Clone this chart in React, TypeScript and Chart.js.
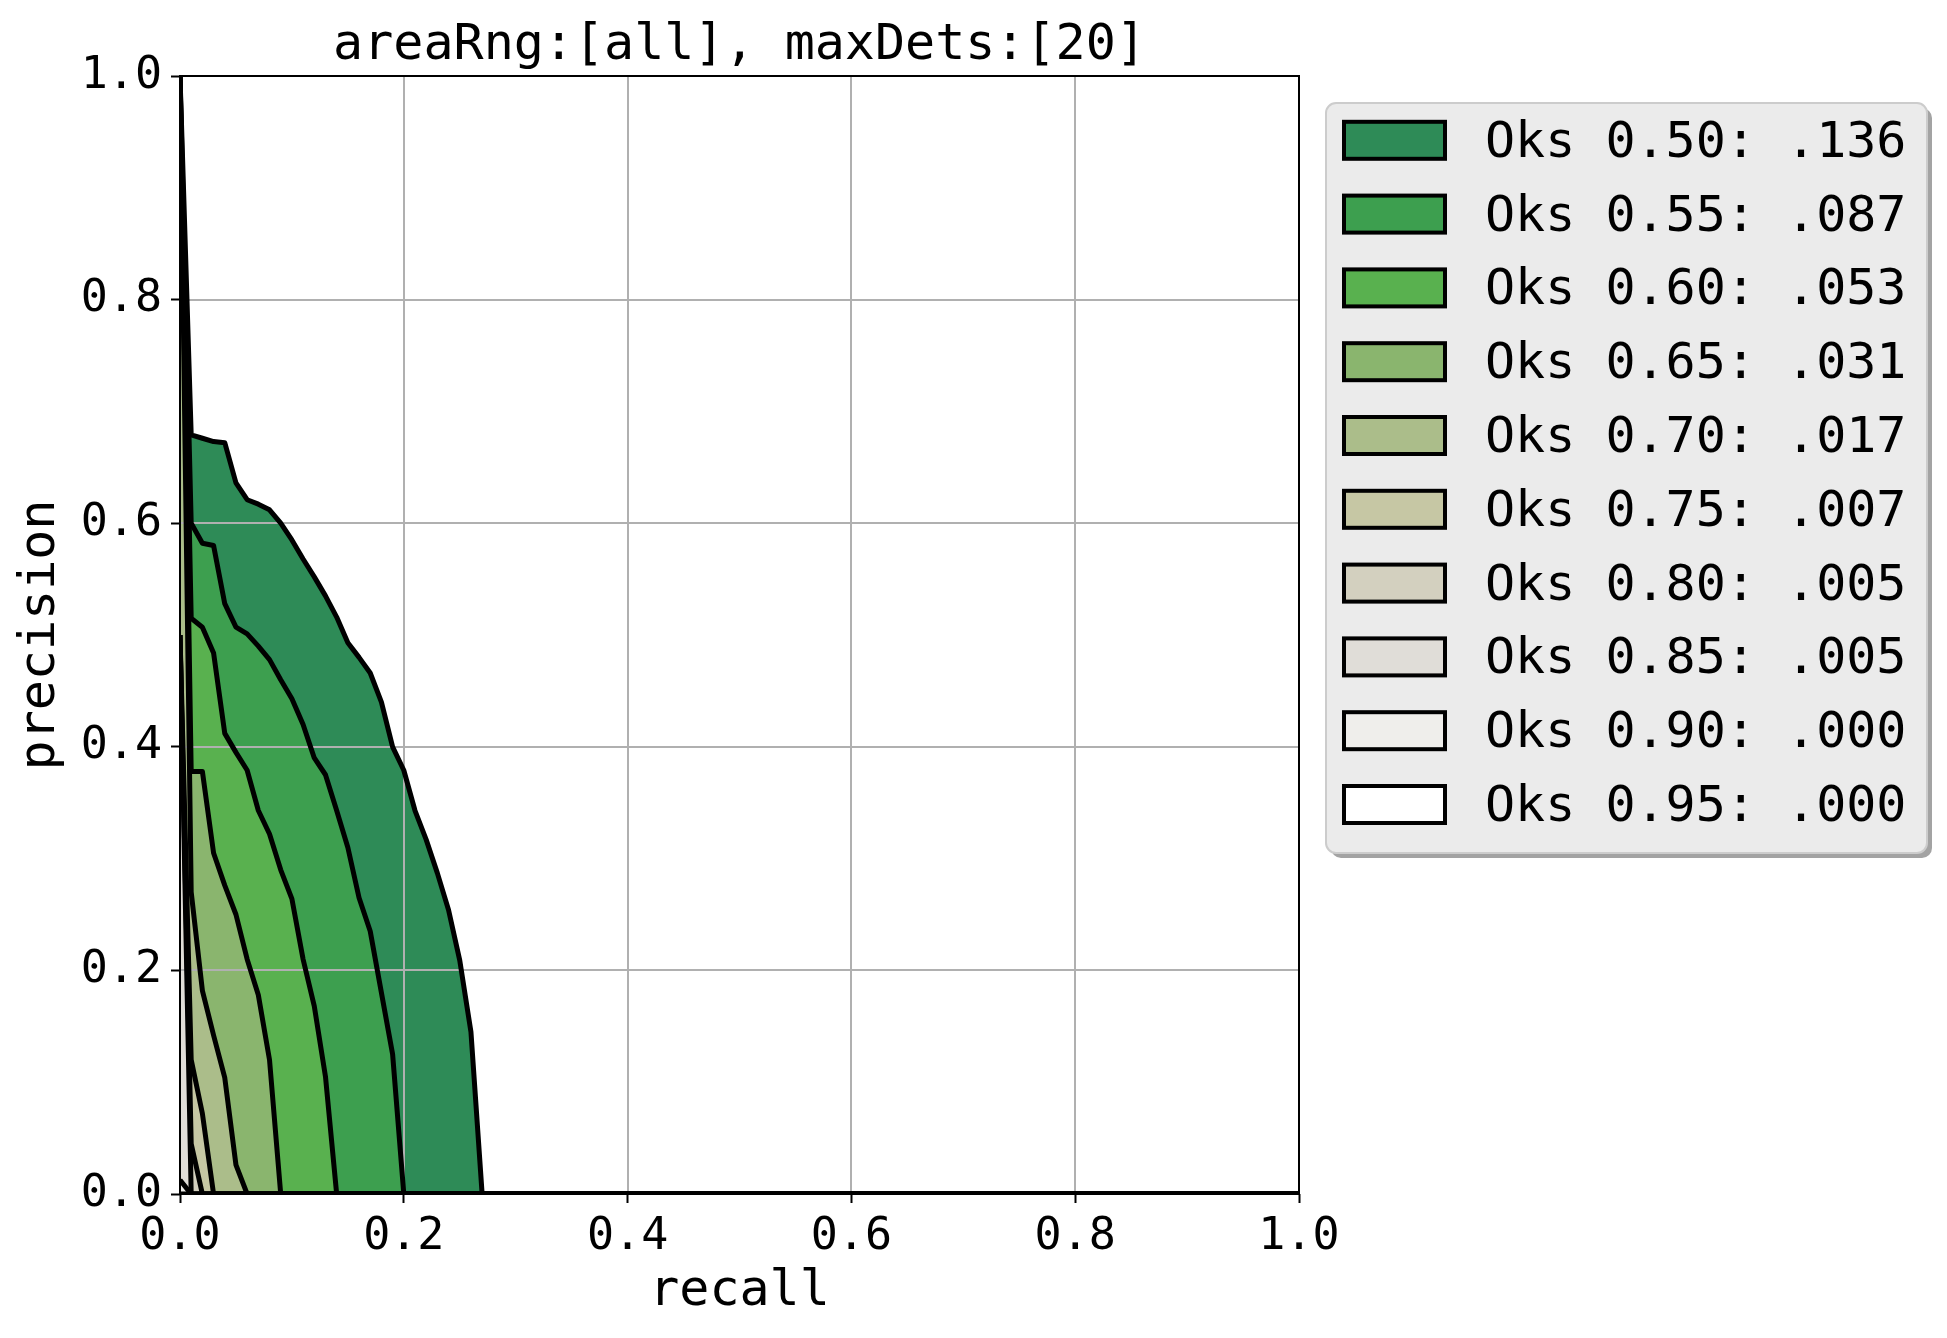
import React, { useEffect, useRef } from 'react';
import { Chart, registerables } from 'chart.js';

Chart.register(...registerables);

// recall sampling points (COCO recall thresholds actually used by the curves, plus the end of the axis)
const RECALL = [0, 0.01, 0.02, 0.03, 0.04, 0.05, 0.06, 0.07, 0.08, 0.09, 0.1, 0.11, 0.12, 0.13, 0.14, 0.15, 0.16, 0.17, 0.18, 0.19, 0.2, 0.21, 0.22, 0.23, 0.24, 0.25, 0.26, 0.27, 1.0];

const P50 = [1.0, 0.679, 0.676, 0.673, 0.672, 0.636, 0.621, 0.617, 0.612, 0.6, 0.585, 0.568, 0.552, 0.535, 0.516, 0.493, 0.48, 0.466, 0.44, 0.4, 0.379, 0.343, 0.317, 0.287, 0.254, 0.209, 0.145, 0, 0];
const P55 = [1.0, 0.6, 0.582, 0.58, 0.528, 0.507, 0.501, 0.49, 0.478, 0.46, 0.443, 0.42, 0.39, 0.375, 0.343, 0.31, 0.265, 0.235, 0.18, 0.125, 0, 0, 0, 0, 0, 0, 0, 0, 0];
const P60 = [1.0, 0.515, 0.507, 0.484, 0.412, 0.395, 0.379, 0.343, 0.322, 0.29, 0.264, 0.21, 0.168, 0.105, 0, 0, 0, 0, 0, 0, 0, 0, 0, 0, 0, 0, 0, 0, 0];
const P65 = [1.0, 0.378, 0.378, 0.305, 0.276, 0.25, 0.21, 0.178, 0.12, 0, 0, 0, 0, 0, 0, 0, 0, 0, 0, 0, 0, 0, 0, 0, 0, 0, 0, 0, 0];
const P70 = [1.0, 0.27, 0.182, 0.142, 0.104, 0.026, 0, 0, 0, 0, 0, 0, 0, 0, 0, 0, 0, 0, 0, 0, 0, 0, 0, 0, 0, 0, 0, 0, 0];
const P75 = [0.5, 0.12, 0.072, 0, 0, 0, 0, 0, 0, 0, 0, 0, 0, 0, 0, 0, 0, 0, 0, 0, 0, 0, 0, 0, 0, 0, 0, 0, 0];
const P80 = [0.5, 0.045, 0, 0, 0, 0, 0, 0, 0, 0, 0, 0, 0, 0, 0, 0, 0, 0, 0, 0, 0, 0, 0, 0, 0, 0, 0, 0, 0];
const P85 = [0.5, 0, 0, 0, 0, 0, 0, 0, 0, 0, 0, 0, 0, 0, 0, 0, 0, 0, 0, 0, 0, 0, 0, 0, 0, 0, 0, 0, 0];
const P90 = [0.0125, 0, 0, 0, 0, 0, 0, 0, 0, 0, 0, 0, 0, 0, 0, 0, 0, 0, 0, 0, 0, 0, 0, 0, 0, 0, 0, 0, 0];
const P95 = [0, 0, 0, 0, 0, 0, 0, 0, 0, 0, 0, 0, 0, 0, 0, 0, 0, 0, 0, 0, 0, 0, 0, 0, 0, 0, 0, 0, 0];

const SERIES = [P50, P55, P60, P65, P70, P75, P80, P85, P90, P95];
const THRESHOLDS = ['0.50', '0.55', '0.60', '0.65', '0.70', '0.75', '0.80', '0.85', '0.90', '0.95'];
const AP_TEXT = ['.136', '.087', '.053', '.031', '.017', '.007', '.005', '.005', '.000', '.000'];
const COLORS = ['#2e8b57', '#3d9f4f', '#59b14f', '#8ab56e', '#abbd8a', '#c6c7a4', '#d3d0bf', '#e0ddd8', '#efeeeb', '#ffffff'];

const TICK_VALUES = [0, 0.2, 0.4, 0.6, 0.8, 1.0];
const TICK_LABELS = ['0.0', '0.2', '0.4', '0.6', '0.8', '1.0'];

const TITLE = 'areaRng:[all], maxDets:[20]';
const X_TITLE = 'recall';
const Y_TITLE = 'precision';

const FONT = '"DejaVu Sans Mono", monospace';
const FS = 50;
const TICK_FS = 45;

function roundRect(ctx: CanvasRenderingContext2D, x: number, y: number, w: number, h: number, r: number) {
  ctx.beginPath();
  ctx.moveTo(x + r, y);
  ctx.lineTo(x + w - r, y);
  ctx.arcTo(x + w, y, x + w, y + r, r);
  ctx.lineTo(x + w, y + h - r);
  ctx.arcTo(x + w, y + h, x + w - r, y + h, r);
  ctx.lineTo(x + r, y + h);
  ctx.arcTo(x, y + h, x, y + h - r, r);
  ctx.lineTo(x, y + r);
  ctx.arcTo(x, y, x + r, y, r);
  ctx.closePath();
}

const overlayPlugin = {
  id: 'overlay',
  beforeDatasetsDraw(chart: any) {
    const { ctx, chartArea: a, scales } = chart;
    ctx.save();
    ctx.strokeStyle = '#b0b0b0';
    ctx.lineWidth = 2;
    for (const v of TICK_VALUES) {
      const x = Math.round(scales.x.getPixelForValue(v));
      ctx.beginPath();
      ctx.moveTo(x, a.top);
      ctx.lineTo(x, a.bottom);
      ctx.stroke();
      const y = Math.round(scales.y.getPixelForValue(v));
      ctx.beginPath();
      ctx.moveTo(a.left, y);
      ctx.lineTo(a.right, y);
      ctx.stroke();
    }
    ctx.restore();
  },
  afterDatasetsDraw(chart: any) {
    const { ctx, chartArea: a } = chart;
    ctx.save();
    ctx.strokeStyle = '#000';
    ctx.lineWidth = 2;
    ctx.strokeRect(a.left, a.top, a.right - a.left, a.bottom - a.top);
    ctx.restore();
  },
  afterDraw(chart: any) {
    const { ctx, chartArea: a } = chart;
    ctx.save();
    // title
    ctx.fillStyle = '#000';
    ctx.font = `${FS}px ${FONT}`;
    ctx.textAlign = 'center';
    ctx.textBaseline = 'alphabetic';
    ctx.fillText(TITLE, (a.left + a.right) / 2, 59);

    // legend
    const lx = 1326, ly = 103, lw = 601, lh = 750;
    ctx.fillStyle = '#a3a3a3';
    roundRect(ctx, lx + 5, ly + 5, lw, lh, 10);
    ctx.fill();
    ctx.fillStyle = '#ebebeb';
    roundRect(ctx, lx, ly, lw, lh, 10);
    ctx.fill();
    ctx.strokeStyle = '#cccccc';
    ctx.lineWidth = 2;
    ctx.stroke();

    ctx.textAlign = 'left';
    ctx.textBaseline = 'middle';
    for (let k = 0; k < THRESHOLDS.length; k++) {
      const cy = 140.3 + k * 73.8;
      ctx.fillStyle = COLORS[k];
      ctx.fillRect(1344, cy - 18.5, 101, 37);
      ctx.strokeStyle = '#000';
      ctx.lineWidth = 4;
      ctx.strokeRect(1344, cy - 18.5, 101, 37);
      ctx.fillStyle = '#000';
      ctx.fillText(`Oks ${THRESHOLDS[k]}: ${AP_TEXT[k]}`, 1485, cy + 3.5);
    }
    ctx.restore();
  },
};

export default function App() {
  const ref = useRef<HTMLCanvasElement | null>(null);

  useEffect(() => {
    if (!ref.current) return;
    const datasets = SERIES.map((ys, i) => ({
      label: `Oks ${THRESHOLDS[i]}: ${AP_TEXT[i]}`,
      data: RECALL.map((r, j) => ({ x: r, y: ys[j] })),
      borderColor: '#000',
      borderWidth: 5,
      backgroundColor: COLORS[i],
      fill: i < SERIES.length - 1 ? '+1' : 'origin',
      pointRadius: 0,
      pointHoverRadius: 0,
      tension: 0,
      clip: 0,
      borderJoinStyle: 'round' as const,
    }));

    const tickFont = { family: FONT, size: TICK_FS };
    const titleFont = { family: FONT, size: FS };
    const chart = new Chart(ref.current, {
      type: 'line',
      data: { datasets },
      plugins: [overlayPlugin],
      options: {
        responsive: false,
        animation: false,
        devicePixelRatio: 1,
        layout: { padding: { left: 0, top: 76, right: 648, bottom: 0 } },
        plugins: {
          legend: { display: false },
          tooltip: { enabled: false },
          title: { display: false },
          filler: { propagate: false, drawTime: 'beforeDatasetsDraw' },
        } as any,
        scales: {
          x: {
            type: 'linear',
            min: 0,
            max: 1,
            afterBuildTicks: (s: any) => { s.ticks = TICK_VALUES.map((v) => ({ value: v })); },
            afterFit: (s: any) => { s.height = 144; },
            ticks: {
              autoSkip: false,
              maxRotation: 0,
              padding: 7,
              color: '#000',
              font: tickFont,
              callback: (_v: any, i: number) => TICK_LABELS[i],
            },
            grid: { drawOnChartArea: false, drawTicks: true, tickLength: 9, tickColor: '#000', tickWidth: 2 },
            border: { display: false },
            title: { display: true, text: X_TITLE, color: '#000', font: titleFont, padding: { top: 0, bottom: 16 } },
          },
          y: {
            type: 'linear',
            min: 0,
            max: 1,
            afterBuildTicks: (s: any) => { s.ticks = TICK_VALUES.map((v) => ({ value: v })); },
            afterFit: (s: any) => { s.width = 180; },
            ticks: {
              autoSkip: false,
              padding: 9,
              color: '#000',
              font: tickFont,
              callback: (_v: any, i: number) => TICK_LABELS[i],
            },
            grid: { drawOnChartArea: false, drawTicks: true, tickLength: 9, tickColor: '#000', tickWidth: 2 },
            border: { display: false },
            title: { display: true, text: Y_TITLE, color: '#000', font: titleFont, padding: { top: 11, bottom: 0 } },
          },
        },
      } as any,
    });
    return () => chart.destroy();
  }, []);

  return (
    <div style={{ position: 'absolute', left: 0, top: 0, width: 1947, height: 1338, background: '#fff' }}>
      <canvas ref={ref} width={1947} height={1338} style={{ width: 1947, height: 1338, display: 'block' }} />
    </div>
  );
}
